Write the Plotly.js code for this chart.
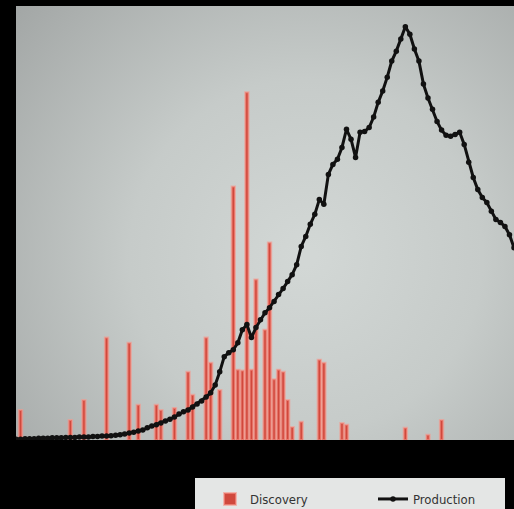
<!DOCTYPE html>
<html>
<head>
<meta charset="utf-8">
<script src="https://cdn.plot.ly/plotly-3.0.1.min.js"></script>
<style>
html,body{margin:0;padding:0;background:#000;}
#chart{width:514px;height:509px;}
</style>
</head>
<body>
<div id="chart"></div>
<script>
// Discovery (bars)
const discoveryYears = [1901,1912,1915,1920,1925,1927,1931,1932,1935,1938,1939,1942,1943,1945,1948,1949,1950,1951,1952,1953,1955,1956,1957,1958,1959,1960,1961,1963,1967,1968,1972,1973,1986,1991,1994];
const discoveryValues = [6.9,4.6,9.2,23.6,22.4,8.1,8.1,6.9,7.4,15.7,10.4,23.6,17.8,11.5,58.4,16.2,16.0,80.1,16.2,37.0,25.4,45.5,14.0,16.2,15.7,9.2,3.0,4.2,18.5,17.8,3.9,3.5,2.8,1.2,4.6];

// Production (line)
const productionYears = [];
for (let y = 1900; y <= 2010; y++) productionYears.push(y);
const productionValues = [
  0.2,0.2,0.3,0.3,0.3,0.4,0.4,0.4,0.5,0.5,   // 1900-1909
  0.5,0.6,0.6,0.6,0.7,0.7,0.7,0.8,0.8,0.9,   // 1910-1919
  0.9,1.0,1.1,1.2,1.4,1.6,1.8,2.1,2.3,2.8,   // 1920-1929
  3.2,3.5,3.9,4.4,4.8,5.3,6.0,6.5,6.9,7.6,   // 1930-1939
  8.3,9.0,9.9,10.9,12.7,15.7,19.2,20.1,20.8,22.4, // 1940-1949
  25.4,26.6,23.6,25.9,27.7,29.3,30.5,31.9,33.5,34.9, // 1950-1959
  36.5,38.1,40.4,44.6,46.9,49.7,52.0,55.4,54.3,61.2, // 1960-1969
  63.5,64.7,67.4,71.6,69.3,65.1,70.9,71.1,72.0,74.4, // 1970-1979
  77.8,80.4,83.6,87.3,89.6,92.4,95.2,93.5,90.1,87.3, // 1980-1989
  82.0,78.8,76.2,73.4,71.4,70.2,70.0,70.4,70.9,68.1, // 1990-1999
  64.0,60.5,57.7,55.9,54.7,52.7,50.8,50.1,49.2,47.3, // 2000-2009
  44.3                                                // 2010
];

const legendLabels = ['Discovery', 'Production'];

// gradient background for the plot area
const cv = document.createElement('canvas');
cv.width = 498; cv.height = 434;
const ctx = cv.getContext('2d');
const g = ctx.createRadialGradient(290, 250, 10, 290, 250, 380);
g.addColorStop(0, '#d2d7d5');
g.addColorStop(0.45, '#c6cbc9');
g.addColorStop(1, '#a3a7a6');
ctx.fillStyle = g;
ctx.fillRect(0, 0, 498, 434);
const bgURL = cv.toDataURL('image/png');

const W = 514, H = 509;
const mL = 16, mR = 0, mT = 6, mB = 69;
const pw = W - mL - mR, ph = H - mT - mB;
const px = v => (v - mL) / pw;
const py = v => (H - mB - v) / ph;

const traces = [
  {
    type: 'bar',
    name: legendLabels[0],
    x: discoveryYears,
    y: discoveryValues,
    width: 0.75,
    marker: {color: 'rgb(208,72,60)', line: {color: 'rgba(248,150,138,0.6)', width: 2}},
    hoverinfo: 'x+y'
  },
  {
    type: 'scatter',
    mode: 'lines+markers',
    name: legendLabels[1],
    x: productionYears,
    y: productionValues,
    line: {color: '#111', width: 3},
    marker: {color: '#111', size: 5.5}
  }
];

const layout = {
  width: W, height: H,
  margin: {l: mL, r: mR, t: mT, b: mB, pad: 0, autoexpand: false},
  paper_bgcolor: '#000',
  plot_bgcolor: 'rgba(0,0,0,0)',
  bargap: 0,
  xaxis: {range: [1900, 2010], showgrid: false, zeroline: false, showticklabels: false, ticks: '', showline: false},
  yaxis: {range: [0, 100], showgrid: false, zeroline: false, showticklabels: false, ticks: '', showline: false},
  images: [{source: bgURL, xref: 'paper', yref: 'paper', x: 0, y: 1, sizex: 1, sizey: 1, sizing: 'stretch', xanchor: 'left', yanchor: 'top', layer: 'below'}],
  shapes: [{type: 'rect', xref: 'paper', yref: 'paper', x0: px(195), x1: px(505), y0: py(512), y1: py(478), fillcolor: '#e4e6e5', line: {width: 0}, layer: 'below'}],
  showlegend: true,
  legend: {
    orientation: 'h',
    xref: 'container', yref: 'container',
    x: 210 / W, xanchor: 'left',
    y: 1 - 484 / H, yanchor: 'top',
    bgcolor: 'rgba(0,0,0,0)',
    borderwidth: 0,
    entrywidth: 118,
    font: {family: '"DejaVu Sans Condensed", "Liberation Sans Narrow", "Liberation Sans", sans-serif', size: 13, color: '#333'}
  }
};

Plotly.newPlot('chart', traces, layout, {displayModeBar: false, staticPlot: true});
</script>
</body>
</html>
